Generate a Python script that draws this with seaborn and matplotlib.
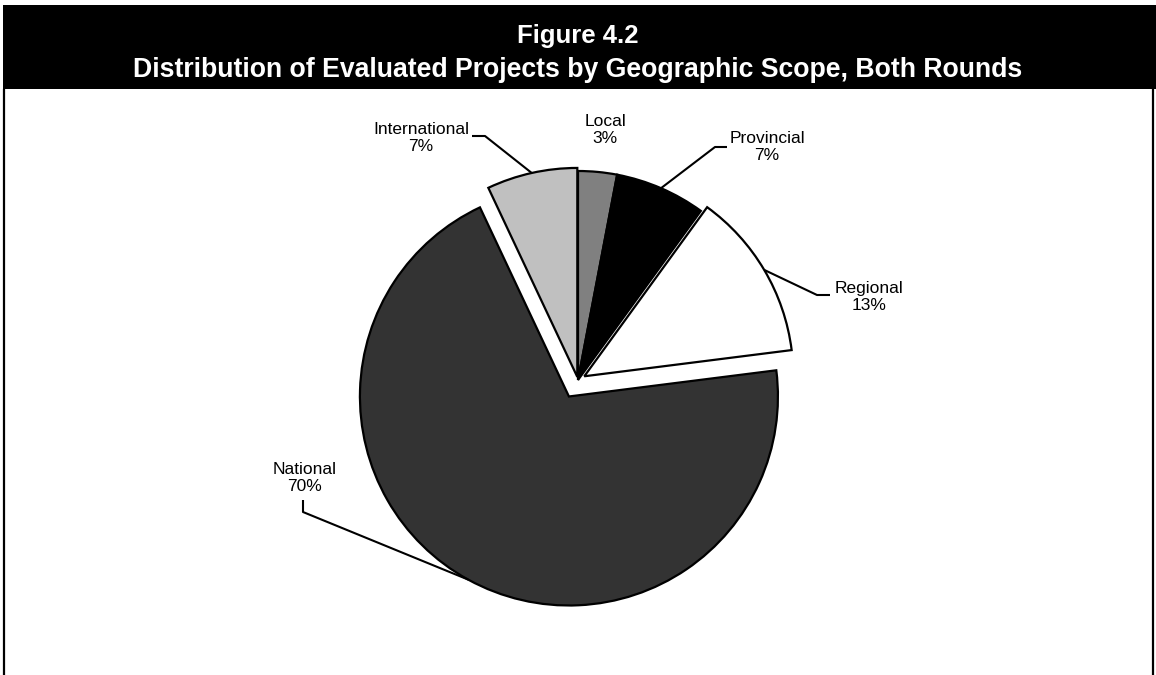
import matplotlib
matplotlib.use("Agg")
import matplotlib.pyplot as plt
from matplotlib.patches import Rectangle
from matplotlib.lines import Line2D
import numpy as np
import seaborn as sns

# Geographic scope shares (percent of evaluated projects)
scopes = ["Local", "Provincial", "Regional", "National", "International"]
shares = [3, 7, 13, 70, 7]
fills = ["#808080", "#000000", "#ffffff", "#333333", "#c0c0c0"]
offsets = [0.0, 0.0, 0.035, 0.09, 0.015]

title = "Figure 4.2"
subtitle = "Distribution of Evaluated Projects by Geographic Scope, Both Rounds"

sns.set_theme(style="white")
plt.rcParams["font.family"] = ["Liberation Sans", "DejaVu Sans"]

W, H = 1156, 675
fig = plt.figure(figsize=(W / 100, H / 100), dpi=100)
fig.patch.set_facecolor("white")


def fx(px):
    return px / W


def fy(py):
    return 1 - py / H


# header band and outer frame
fig.add_artist(Rectangle((fx(3), fy(89)), fx(1153), (89 - 5) / H,
                         transform=fig.transFigure, facecolor="black",
                         edgecolor="none", zorder=0))
for xpx in (4, 1153):
    fig.add_artist(Line2D([fx(xpx), fx(xpx)], [fy(89), fy(676)],
                          transform=fig.transFigure, color="black", lw=1.6))
fig.text(0.5, fy(43), title, color="white", fontsize=18.5, fontweight="bold",
         ha="center", va="baseline")
fig.text(0.5, fy(77), subtitle, color="white", fontsize=19.2,
         fontweight="bold", ha="center", va="baseline")

# pie axes: centre at (578, 380) px, radius 209 px
R = 209.0
cx, cy = 578, 380
half_w, half_h = 300, 280
ax = fig.add_axes([fx(cx - half_w), fy(cy + half_h), 2 * half_w / W,
                   2 * half_h / H])
wedges, _ = ax.pie(shares, colors=fills, explode=offsets, startangle=90,
                   counterclock=False,
                   wedgeprops=dict(edgecolor="black", linewidth=1.6))
ax.set_aspect("auto")
ax.set_xlim(-half_w / R, half_w / R)
ax.set_ylim(-half_h / R, half_h / R)
ax.axis("off")


def px2d(px, py):
    return (px - cx) / R, (cy - py) / R


# label placement (text centre) and leader elbows, in pixels
label_pos = {
    "Local": (605, 130),
    "Provincial": (767, 147),
    "Regional": (869, 297),
    "National": (305, 478),
    "International": (421, 138),
}
leaders = {
    "Provincial": [(727, 147), (715, 147)],
    "Regional": [(830, 295), (817, 295)],
    "National": [(303, 500), (303, 512)],
    "International": [(472, 136), (485, 136)],
}

for w, name, val in zip(wedges, scopes, shares):
    tx, ty = px2d(*label_pos[name])
    ax.text(tx, ty, f"{name}\n{val}%", ha="center", va="center",
            fontsize=12.5, linespacing=1.1, color="black")
    if name in leaders:
        mid = np.deg2rad((w.theta1 + w.theta2) / 2)
        ex = w.center[0] + w.r * np.cos(mid)
        ey = w.center[1] + w.r * np.sin(mid)
        pts = [px2d(*p) for p in leaders[name]] + [(ex, ey)]
        xs, ys = zip(*pts)
        ax.plot(xs, ys, color="black", lw=1.5, solid_capstyle="butt")

fig.savefig("out.png", dpi=100)
